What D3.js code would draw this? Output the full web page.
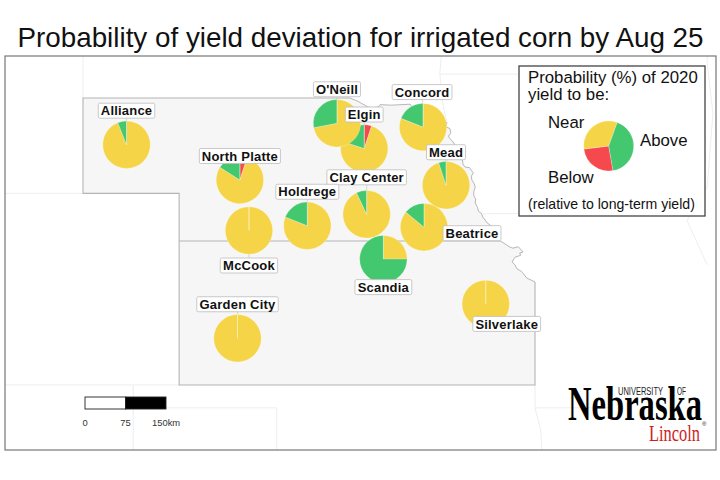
<!DOCTYPE html>
<html>
<head>
<meta charset="utf-8">
<script src="https://d3js.org/d3.v7.min.js"></script>
<style>
  body { margin: 0; background: #fff; }
  text { font-family: "Liberation Sans", Arial, sans-serif; fill: #111; }
</style>
</head>
<body>
<div id="map"></div>
<script>
// sites, drawn in this order so O'Neill lies over Elgin
var siteNames = ["Alliance", "North Platte", "Elgin", "O'Neill", "Concord", "Mead", "Clay Center",
                 "Holdrege", "McCook", "Scandia", "Beatrice", "Silverlake", "Garden City"];
var siteLon = [-103.14, -100.77, -98.17, -98.74, -96.94, -96.46, -98.12, -99.36, -100.58, -97.77, -96.92, -95.63, -100.82];
var siteLat = [42.02, 41.28, 41.94, 42.47, 42.39, 41.17, 40.56, 40.32, 40.22, 39.62, 40.29, 38.68, 37.96];

// probability (%) of yield near / above / below long-term yield
var nearPct  = [94, 79, 75, 72, 81, 95, 93, 81, 100, 25, 86, 100, 100];
var abovePct = [ 6, 16, 20, 28, 19,  5,  7, 19,   0, 75, 14,   0,   0];
var belowPct = [ 0,  5,  5,  0,  0,  0,  0,  0,   0,  0,  0,   0,   0];

// legend pie: below, near, above
var legendValues = [25.8, 32.5, 41.7];
var sliceColors = ["#f5494d", "#f5d547", "#43c76f"];

// label placement relative to the pie centre
var labelDx = [0, 0, 0, 0, -1, 0, 0, 0, 0, 0, 48, 21, 0];
var labelDy = [-34, -24, -34, -34, -35, -33, -37, -34, 35, 28, 6, 20, -34];

// Missouri river edge of Nebraska + Kansas, [lon, lat]
var river = [[-98.47,43],[-98.3,42.93],[-98.25,42.9],[-98.09,42.81],[-97.98,42.8],[-97.88,42.81],[-97.84,42.86],
  [-97.6,42.85],[-97.21,42.87],[-97.11,42.71],[-96.7,42.6],[-96.44,42.48],[-96.47,42.4],[-96.38,42.36],[-96.36,42.27],
  [-96.41,42.2],[-96.38,42.15],[-96.33,42.1],[-96.27,42.01],[-96.24,41.92],[-96.17,41.82],[-96.18,41.74],[-96.12,41.7],
  [-96.1,41.6],[-96.06,41.55],[-95.97,41.54],[-95.93,41.48],[-95.89,41.43],[-95.93,41.36],[-95.92,41.28],[-95.87,41.2],
  [-95.85,41.13],[-95.88,41.03],[-95.88,40.95],[-95.84,40.88],[-95.85,40.8],[-95.8,40.7],[-95.78,40.62],[-95.72,40.58],
  [-95.69,40.5],[-95.6,40.38],[-95.52,40.32],[-95.45,40.2],[-95.38,40.1],[-95.33,40],[-95.26,39.96],[-95.2,39.92],
  [-95.12,39.87],[-95.06,39.85],[-94.95,39.88],[-94.85,39.77],[-94.92,39.75],[-94.9,39.7],[-95.02,39.66],[-95.08,39.56],
  [-95.02,39.5],[-94.98,39.42],[-94.88,39.36],[-94.77,39.22],[-94.68,39.18],[-94.6,39.14]];
var straightEdge = [[-94.6,39.14],[-94.6,36.98],[-102.04,36.98],[-102.04,41],[-104.05,41],[-104.05,43],[-98.47,43]];
var stateBorder = [[-102.04,40],[-95.33,40]];

// neighbouring state lines, very pale
var neighbours = [
  [[-104.05,44.5],[-104.05,43]],
  [[-106,41],[-104.05,41]],
  [[-106,36.98],[-102.04,36.98]],
  [[-103,36.98],[-103,35.5]],
  [[-103,36.5],[-100,36.5],[-100,35.5]],
  [[-96.5,44.5],[-96.59,43.52],[-96.53,42.9],[-96.44,42.48]],
  [[-96.59,43.5],[-91.2,43.5]],
  [[-95.69,40.57],[-91.7,40.6]],
  [[-91.0,44.2],[-91.0,43.73],[-90.88,42.68],[-91.0,41.13],[-91.42,40.43],[-91.0,39.5]],
  [[-94.6,36.98],[-94.6,36.5],[-93,36.5]],
  [[-94.6,36.5],[-94.48,36.03],[-94.45,35.5]]
];

// scale bar stops in km
var scaleStops = [0, 75, 150];

var width = 720, height = 480;

var svg = d3.select("#map").append("svg")
    .attr("width", width)
    .attr("height", height);

var x = d3.scaleLinear().domain([-104.05, -94.6]).range([83, 535]);
var y = d3.scaleLinear().domain([43, 37]).range([98, 384]);
var km = d3.scaleLinear().domain([0, 150]).range([85, 166]);

var mapLine = d3.line()
    .x(function(d) { return x(d[0]); })
    .y(function(d) { return y(d[1]); });

svg.append("text")
    .attr("x", 360.5)
    .attr("y", 47)
    .attr("text-anchor", "middle")
    .style("font-size", "27.8px")
    .text("Probability of yield deviation for irrigated corn by Aug 25");

svg.append("clipPath").attr("id", "frame")
  .append("rect")
    .attr("x", 5).attr("y", 56).attr("width", 711).attr("height", 394);

var mapG = svg.append("g").attr("clip-path", "url(#frame)");

mapG.selectAll(".neighbour")
    .data(neighbours)
  .enter().append("path")
    .attr("class", "neighbour")
    .attr("d", mapLine)
    .style("fill", "none")
    .style("stroke", "#eeeeee")
    .style("stroke-width", 1);

// fill first, then the edges so the river stays thin
mapG.append("path")
    .attr("d", mapLine(river.concat(straightEdge.slice(1))) + "Z")
    .style("fill", "#f6f6f6");

mapG.selectAll(".edge")
    .data([straightEdge, stateBorder])
  .enter().append("path")
    .attr("class", "edge")
    .attr("d", mapLine)
    .style("fill", "none")
    .style("stroke", "#b4b4b4")
    .style("stroke-width", 1.1);

mapG.append("path")
    .attr("d", mapLine(river))
    .style("fill", "none")
    .style("stroke", "#999")
    .style("stroke-width", 0.7);

// frame
svg.append("rect")
    .attr("x", 5).attr("y", 56).attr("width", 711).attr("height", 394)
    .style("fill", "none")
    .style("stroke", "#777")
    .style("stroke-width", 1.2);

// pies
var radius = 23.7;
var pie = d3.pie().sort(null);
var arc = d3.arc().innerRadius(0).outerRadius(radius);

var sites = siteNames.map(function(name, i) {
  return {
    name: name,
    cx: x(siteLon[i]),
    cy: y(siteLat[i]),
    lx: x(siteLon[i]) + labelDx[i],
    ly: y(siteLat[i]) + labelDy[i],
    values: [belowPct[i], nearPct[i], abovePct[i]]
  };
});

// leader lines go under the pies
svg.selectAll(".leader")
    .data(sites)
  .enter().append("line")
    .attr("class", "leader")
    .attr("x1", function(d) { return d.cx; })
    .attr("y1", function(d) { return d.cy; })
    .attr("x2", function(d) { return d.lx; })
    .attr("y2", function(d) { return d.ly; })
    .style("stroke", "#c8c8c8")
    .style("stroke-width", 0.7);

var pies = svg.selectAll(".pie")
    .data(sites)
  .enter().append("g")
    .attr("class", "pie")
    .attr("transform", function(d) { return "translate(" + d.cx + "," + d.cy + ")"; });

pies.selectAll("path")
    .data(function(d) { return pie(d.values); })
  .enter().append("path")
    .attr("d", arc)
    .style("fill", function(d, i) { return sliceColors[i]; })
    .style("stroke", "rgba(255,255,255,0.4)")
    .style("stroke-width", 0.6);

pies.append("line")
    .attr("y2", -radius)
    .style("stroke", "rgba(255,255,255,0.4)")
    .style("stroke-width", 0.7);

// labels on top of everything
var labels = svg.selectAll(".site-label")
    .data(sites)
  .enter().append("g")
    .attr("class", "site-label")
    .attr("transform", function(d) { return "translate(" + d.lx + "," + d.ly + ")"; });

var labelRects = labels.append("rect")
    .attr("rx", 1.5)
    .style("fill", "#fff")
    .style("stroke", "#bdbdbd")
    .style("stroke-width", 0.8);

var labelTexts = labels.append("text")
    .attr("text-anchor", "middle")
    .attr("dy", "0.36em")
    .style("font-size", "13px")
    .style("font-weight", "bold")
    .style("letter-spacing", "0.2px")
    .text(function(d) { return d.name; });

labelRects.each(function(d, i) {
  var w = labelTexts.nodes()[i].getBBox().width + 5;
  d3.select(this)
    .attr("x", -w / 2).attr("y", -7.5)
    .attr("width", w).attr("height", 15);
});

// legend
var legend = svg.append("g");

legend.append("rect")
    .attr("x", 519).attr("y", 66).attr("width", 186).attr("height", 150)
    .style("fill", "#fff")
    .style("stroke", "#444")
    .style("stroke-width", 1.3);

legend.append("text").attr("x", 528).attr("y", 83).style("font-size", "16.8px").text("Probability (%) of 2020");
legend.append("text").attr("x", 528).attr("y", 100).style("font-size", "16.8px").text("yield to be:");
legend.append("text").attr("x", 548).attr("y", 128).style("font-size", "16.8px").text("Near");
legend.append("text").attr("x", 640).attr("y", 146).style("font-size", "16.8px").text("Above");
legend.append("text").attr("x", 548).attr("y", 183).style("font-size", "16.8px").text("Below");
legend.append("text").attr("x", 528).attr("y", 209).style("font-size", "14.1px").text("(relative to long-term yield)");

var legendPie = d3.pie().sort(null)
    .startAngle(170 * Math.PI / 180)
    .endAngle(530 * Math.PI / 180);
var legendArc = d3.arc().innerRadius(0).outerRadius(25);

legend.append("g")
    .attr("transform", "translate(608.7,146)")
  .selectAll("path")
    .data(legendPie(legendValues))
  .enter().append("path")
    .attr("d", legendArc)
    .style("fill", function(d, i) { return sliceColors[i]; })
    .style("stroke", "rgba(255,255,255,0.4)")
    .style("stroke-width", 0.6);

// scale bar
var bar = svg.append("g");

bar.selectAll("rect")
    .data([[0, 75, "#fff"], [75, 150, "#000"]])
  .enter().append("rect")
    .attr("x", function(d) { return km(d[0]); })
    .attr("y", 397)
    .attr("width", function(d) { return km(d[1]) - km(d[0]); })
    .attr("height", 12)
    .style("fill", function(d) { return d[2]; })
    .style("stroke", "#222")
    .style("stroke-width", 0.9);

bar.selectAll("text")
    .data(scaleStops)
  .enter().append("text")
    .attr("x", function(d) { return d == 150 ? km(d) - 14 : km(d); })
    .attr("y", 426)
    .attr("text-anchor", function(d) { return d == 150 ? "start" : "middle"; })
    .style("font-size", "9.4px")
    .style("fill", "#333")
    .text(function(d) { return d == 150 ? d + "km" : d; });

// university wordmark
var logo = svg.append("g");

logo.append("text")
    .attr("x", 568).attr("y", 420)
    .attr("textLength", 134)
    .attr("lengthAdjust", "spacingAndGlyphs")
    .style("font-family", "'Liberation Serif', serif")
    .style("font-weight", "bold")
    .style("font-size", "48px")
    .style("fill", "#000")
    .text("Nebraska");

logo.append("text")
    .attr("x", 618).attr("y", 395)
    .attr("textLength", 45)
    .attr("lengthAdjust", "spacingAndGlyphs")
    .style("font-size", "10px")
    .style("fill", "#222")
    .text("UNIVERSITY");

logo.append("text")
    .attr("x", 677).attr("y", 395)
    .attr("textLength", 9)
    .attr("lengthAdjust", "spacingAndGlyphs")
    .style("font-size", "10px")
    .style("fill", "#222")
    .text("OF");

logo.append("text")
    .attr("x", 649).attr("y", 441)
    .attr("textLength", 51)
    .attr("lengthAdjust", "spacingAndGlyphs")
    .style("font-family", "'Liberation Serif', serif")
    .style("font-size", "24px")
    .style("fill", "#d01c24")
    .text("Lincoln");

logo.append("text")
    .attr("x", 702).attr("y", 426)
    .style("font-size", "6px")
    .style("fill", "#222")
    .text("®");
</script>
</body>
</html>
